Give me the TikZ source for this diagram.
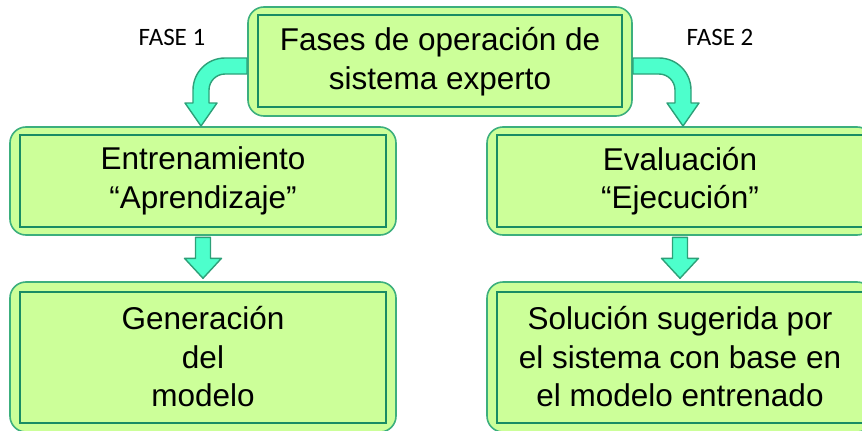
\documentclass[tikz,border=0pt]{standalone}
\usepackage{fontspec}
\setmainfont{Liberation Sans}
\newfontfamily\calibfont{Carlito}
\usetikzlibrary{calc}
\definecolor{boxfill}{RGB}{204,255,153}
\definecolor{boxline}{RGB}{60,175,125}
\definecolor{innerline}{RGB}{25,140,100}
\definecolor{arrfill}{RGB}{77,255,204}
\definecolor{arrline}{RGB}{45,160,120}
\tikzset{
  box/.style={draw=boxline, line width=1.6pt, fill=boxfill, rounded corners=16pt,
    align=center, inner sep=0pt, font=\fontsize{31.5}{38.5}\selectfont},
  innerbox/.style={draw=innerline, line width=2pt},
  blockarrow/.style={draw=arrline, line width=1.4pt, fill=arrfill, line join=round},
  phaselabel/.style={font=\calibfont\fontsize{25}{29}\selectfont, anchor=base, inner sep=0pt},
  darr/.pic={\path[blockarrow] (-7.5,0) -- (7.5,0) -- (7.5,21) -- (18.5,21) -- (0,41) -- (-18.5,21) -- (-7.5,21) -- cycle;}
}
\begin{document}
\begin{tikzpicture}[x=1pt,y=-1pt]
\useasboundingbox (0,0) rectangle (862,431);
\clip (0,0) rectangle (862,431);
% boxes
\node[box, minimum width=384pt, minimum height=109pt] (top) at (440,61.5) {Fases de operación de\\sistema experto};
\draw[innerbox] ($(top.north west)+(11,9)$) rectangle ($(top.south east)+(-11,-10)$);
\node[box, minimum width=386pt, minimum height=108pt] (l1) at (203,181) {Entrenamiento\\“Aprendizaje”};
\draw[innerbox] ($(l1.north west)+(11,9)$) rectangle ($(l1.south east)+(-11,-9)$);
\node[box, minimum width=386pt, minimum height=108pt] (r1) at (680,181) {Evaluación\\“Ejecución”};
\draw[innerbox] ($(r1.north west)+(11,9)$) rectangle ($(r1.south east)+(-11,-9)$);
\node[box, minimum width=386pt, minimum height=150pt] (l2) at (203,357) {Generación\\del\\modelo};
\draw[innerbox] ($(l2.north west)+(11,11)$) rectangle ($(l2.south east)+(-11,-10)$);
\node[box, minimum width=386pt, minimum height=150pt] (r2) at (680,357) {Solución sugerida por\\el sistema con base en\\el modelo entrenado};
\draw[innerbox] ($(r2.north west)+(11,11)$) rectangle ($(r2.south east)+(-11,-10)$);
% labels
\node[phaselabel] (f1) at (172,45) {FASE 1};
\node[phaselabel] (f2) at (720,45) {FASE 2};
% curved arrows from top box
\path[blockarrow] (247,58) -- (225,58) .. controls (207.3,58) and (193,72.3) .. (193,90) -- (193,103) -- (185,103) -- (201,126) -- (217,103) -- (209,103) -- (209,90) .. controls (209,81.2) and (216.2,74) .. (225,74) -- (247,74) -- cycle;
\path[blockarrow] (633,58) -- (659,58) .. controls (676.7,58) and (691,72.3) .. (691,90) -- (691,103) -- (699,103) -- (683,126) -- (667,103) -- (675,103) -- (675,90) .. controls (675,81.2) and (667.8,74) .. (659,74) -- (633,74) -- cycle;
% straight arrows
\pic at ($(l1.south)+(0,1.5)$) {darr};
\pic at ($(r1.south)+(0,1.5)$) {darr};
\end{tikzpicture}
\end{document}
